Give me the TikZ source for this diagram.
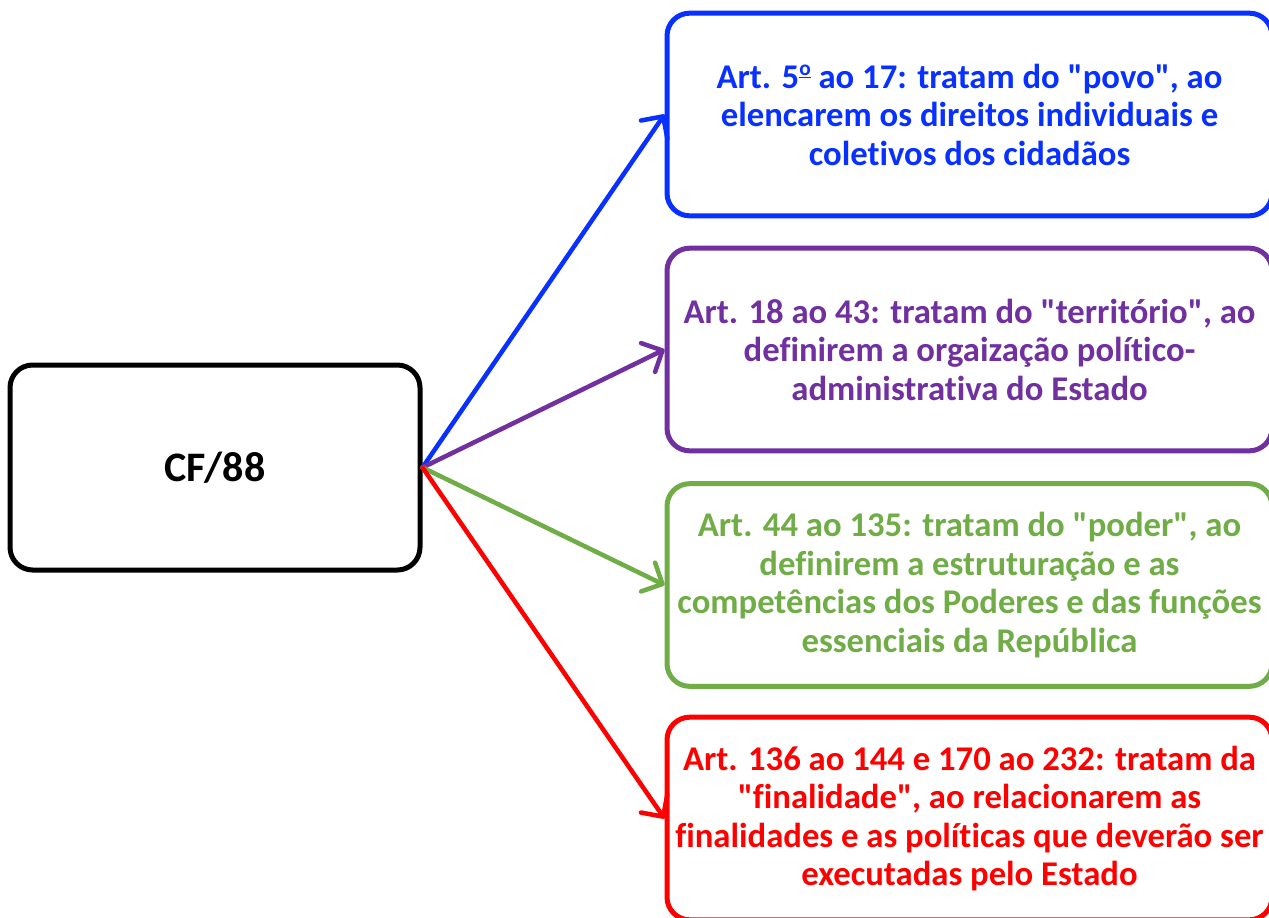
\documentclass[tikz,border=0pt]{standalone}
\usepackage{fontspec}
\setmainfont{Carlito}[Ligatures={TeXOff,NoCommon}]
\usetikzlibrary{arrows.meta}
\definecolor{cblue}{RGB}{8,48,255}
\definecolor{cpurple}{RGB}{112,48,160}
\definecolor{cgreen}{RGB}{112,173,71}
\definecolor{cred}{RGB}{255,0,0}
\newcommand{\myordm}{\raisebox{0.36em}{\fontsize{16}{16}\selectfont\underline{o}}}
\tikzset{
  box/.style={draw=#1, text=#1, line width=3.75pt, rounded corners=17pt,
    minimum width=453.75pt, minimum height=152pt, align=center,
    font=\fontsize{26}{28.9}\selectfont\bfseries, inner sep=0pt},
  mainbox/.style={draw=black, line width=3.75pt, rounded corners=17pt,
    minimum width=307.5pt, minimum height=153.75pt,
    font=\fontsize{31.5}{38}\selectfont\bfseries},
  conn/.style={draw=#1, line width=3.4pt, line cap=round,
    -{Straight Barb[length=12pt,width=24pt,line cap=round,line join=round]}}
}
\begin{document}
\begin{tikzpicture}[x=0.75pt,y=-0.75pt]
\clip (0,0) rectangle (1269,917);
\fill[white] (0,0) rectangle (1269,917);
\node[mainbox] (cf) at (215,467.5) {CF/88};
\node[box=cblue] (b1) at (969.5,114.5) {Art. 5\myordm{} ao 17: tratam do "povo", ao\\elencarem os direitos individuais e\\coletivos dos cidadãos};
\node[box=cpurple] (b2) at (969.5,349.5) {Art. 18 ao 43: tratam do "território", ao\\definirem a orgaização político-\\administrativa do Estado};
\node[box=cgreen] (b3) at (969.5,585) {Art. 44 ao 135: tratam do "poder", ao\\definirem a estruturação e as\\competências dos Poderes e das funções\\essenciais da República};
\node[box=cred] (b4) at (969.5,818.5) {Art. 136 ao 144 e 170 ao 232: tratam da\\"finalidade", ao relacionarem as\\finalidades e as políticas que deverão ser\\executadas pelo Estado};
\draw[conn=cblue] (cf.east) -- (b1.west);
\draw[conn=cpurple] (cf.east) -- (b2.west);
\draw[conn=cgreen] (cf.east) -- (b3.west);
\draw[conn=cred] (cf.east) -- (b4.west);
\end{tikzpicture}
\end{document}
